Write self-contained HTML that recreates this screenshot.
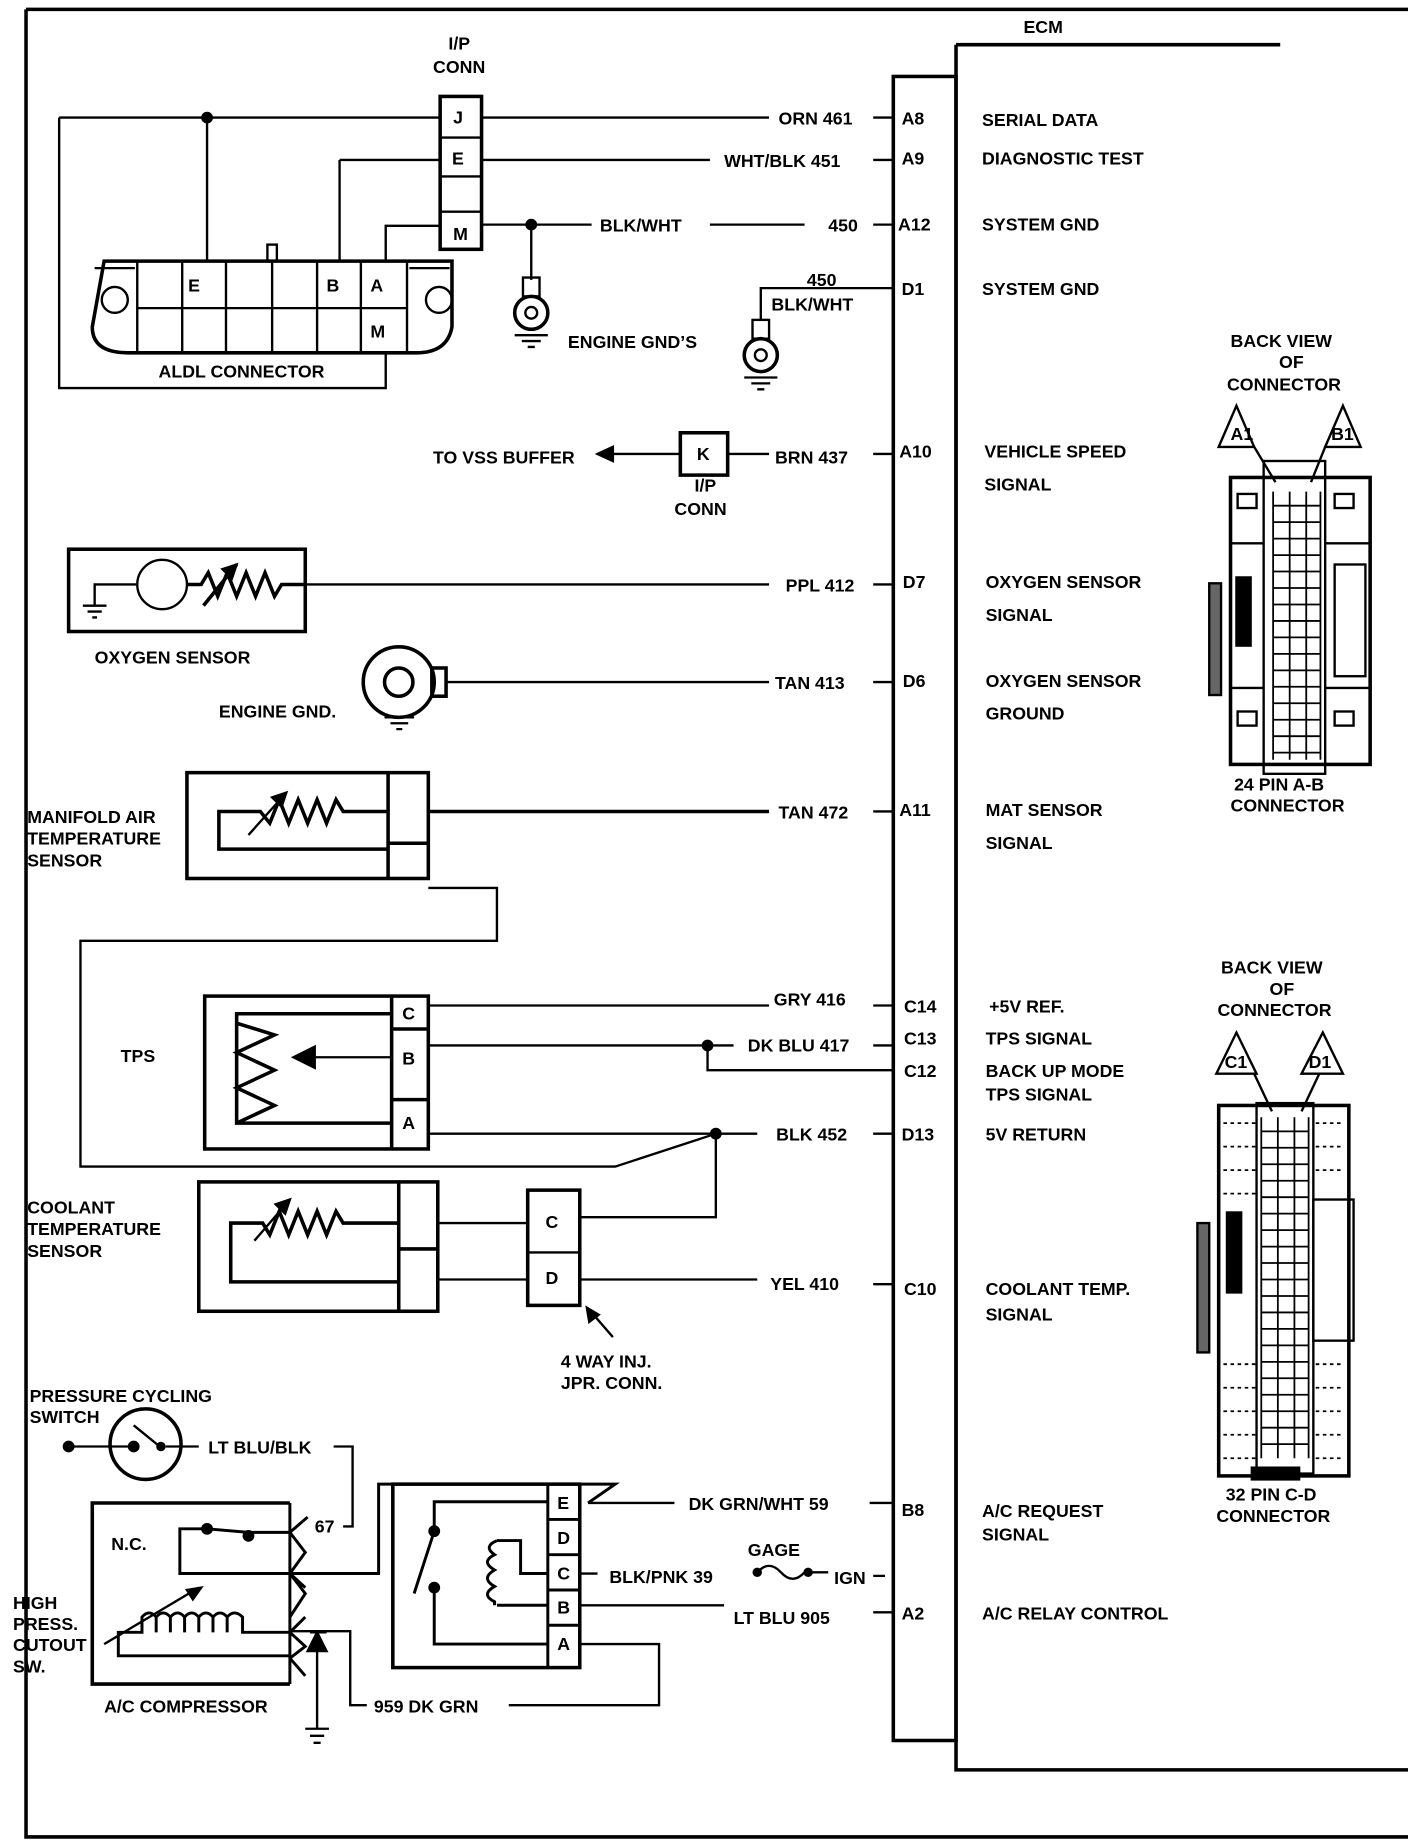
<!DOCTYPE html>
<html><head><meta charset="utf-8"><style>
html,body{margin:0;padding:0;background:#fff;}
svg{display:block;}
text{font-family:"Liberation Sans",sans-serif;font-weight:bold;font-size:15px;fill:#000;}
</style></head><body>
<svg width="1408" height="1844" viewBox="0 0 1190 1568" preserveAspectRatio="none" xmlns="http://www.w3.org/2000/svg">
<g fill="none" stroke="#000" stroke-width="2">
<path d="M22 8 H1190 M22 8 V1562 H1190" stroke-width="3"/>
<path d="M808 38 H1082 M808 38 V1505 H1190" stroke-width="3"/>
<rect x="755" y="65" width="53" height="1415" stroke-width="3"/>
<rect x="372" y="82" width="35" height="130" stroke-width="3"/>
<path d="M372 117 H407 M372 150 H407 M372 180 H407"/>
<path d="M50 100 H372 M50 100 V330 H326 V300 M175 100 V222 M407 100 H650 M407 136 H600 M287 136 H372 M287 136 V222 M326 222 V192 H372 M407 191 H500 M600 191 H680 M449 191 V238"/>
<circle cx="175" cy="100" r="4" fill="#000"/><circle cx="449" cy="191" r="4" fill="#000"/>
<path d="M88 222 H382 V278 Q378 300 352 300 H108 Q78 300 78 278 Z" stroke-width="3"/>
<path d="M116 222 V300 M154 222 V300 M191 222 V300 M230 222 V300 M268 222 V300 M305 222 V300 M344 222 V300 M116 262 H344 M80 228 H114 M346 228 H380"/>
<rect x="226" y="208" width="8" height="14"/>
<circle cx="97" cy="255" r="11"/><circle cx="371" cy="255" r="11"/>
<rect x="442" y="236" width="14" height="16"/><circle cx="449" cy="266" r="14" stroke-width="3"/><circle cx="449" cy="266" r="5"/>
<path d="M435 285 H463 M441 290 H457 M446 295 H452"/>
<path d="M755 245 H643 V272"/>
<rect x="636" y="272" width="14" height="16"/><circle cx="643" cy="302" r="14" stroke-width="3"/><circle cx="643" cy="302" r="5"/>
<path d="M629 321 H657 M635 326 H651 M640 331 H646"/>
<rect x="575" y="368" width="40" height="36" stroke-width="3"/>
<path d="M615 386 H650 M575 386 H515"/>
<path d="M505 386 L518 380 L518 392 Z" fill="#000"/>
<rect x="58" y="467" width="200" height="70" stroke-width="3"/>
<path d="M258 497 H650 M115 497 H80 V515 M70 515 H90 M74 520 H86 M78 525 H82"/>
<circle cx="137" cy="497" r="21"/>
<path d="M158 497 L170 497 L176 487 L184 507 L192 487 L200 507 L208 487 L216 507 L224 487 L232 507 L238 497 H258 M172 515 L200 480" stroke-width="3"/>
<path d="M200 480 L188 484 L196 492 Z" fill="#000"/>
<circle cx="337" cy="580" r="30" stroke-width="3"/><circle cx="337" cy="580" r="12" stroke-width="3"/>
<rect x="365" y="568" width="12" height="24" stroke-width="3"/>
<path d="M377 580 H650 M325 610 H350 M330 615 H345 M335 620 H340"/>
<rect x="158" y="657" width="204" height="90" stroke-width="3"/>
<path d="M328 657 V747 M328 717 H362 M328 690 H290 L284 680 L276 700 L268 680 L260 700 L252 680 L244 700 L236 680 L228 700 L220 690 H185 V722 H328 M362 690 H650" stroke-width="3"/>
<path d="M210 710 L242 674"/><path d="M242 674 L230 678 L238 686 Z" fill="#000"/>
<path d="M362 755 H420 V800 H68 V992 H520 L605 964"/>
<rect x="173" y="847" width="189" height="130" stroke-width="3"/>
<path d="M331 847 V977 M331 875 H362 M331 935 H362 M331 862 H200 V955 H331 M200 870 L232 880 L200 895 L232 910 L200 925 L232 940 L200 955" stroke-width="3"/>
<path d="M331 899 H265"/><path d="M248 899 L266 890 L266 908 Z" fill="#000"/>
<path d="M362 855 H650 M362 889 H620 M598 889 V910 H755 M362 964 H640 M605 964 V1035 H490"/>
<circle cx="598" cy="889" r="4" fill="#000"/><circle cx="605" cy="964" r="4" fill="#000"/>
<rect x="168" y="1005" width="202" height="110" stroke-width="3"/>
<path d="M337 1005 V1115 M337 1062 H370 M337 1040 H290 L284 1030 L276 1050 L268 1030 L260 1050 L252 1030 L244 1050 L236 1030 L228 1050 L222 1040 H195 V1090 H337" stroke-width="3"/>
<path d="M215 1055 L245 1020"/><path d="M245 1020 L233 1024 L241 1032 Z" fill="#000"/>
<rect x="446" y="1012" width="44" height="98" stroke-width="3"/>
<path d="M446 1065 H490 M370 1040 H446 M370 1088 H446 M490 1088 H640 M518 1137 L500 1116"/>
<path d="M496 1112 L498 1124 L506 1118 Z" fill="#000"/>
<circle cx="123" cy="1228" r="30" stroke-width="3"/>
<path d="M58 1230 H110 M140 1230 H168 M113 1212 L135 1230 M282 1230 H298 V1298 H290"/>
<circle cx="58" cy="1230" r="4" fill="#000"/><circle cx="113" cy="1230" r="4" fill="#000"/><circle cx="136" cy="1230" r="3" fill="#000"/>
<path d="M245 1278 H78 V1432 H245" stroke-width="3"/>
<path d="M245 1278 V1432 M245 1303 L260 1290 M245 1303 L258 1320 L245 1338 L258 1350 M245 1338 L258 1355 L245 1375 M245 1388 L258 1375 M245 1388 L258 1400 L245 1410 M245 1410 L258 1425" stroke-width="2.5"/>
<path d="M245 1303 H210 L175 1300 H152 V1338 H245 M245 1338 H320 V1262 H520 L497 1278" stroke-width="2.5"/>
<circle cx="175" cy="1300" r="4" fill="#000"/><circle cx="210" cy="1306" r="4" fill="#000"/>
<path d="M88 1398 L168 1350"/><path d="M170 1350 L158 1352 L163 1360 Z" fill="#000"/>
<path d="M245 1388 H205 V1375 Q198 1368 192 1375 V1388 M192 1375 Q186 1368 180 1375 V1388 M180 1375 Q174 1368 168 1375 V1388 M168 1375 Q162 1368 156 1375 V1388 M156 1375 Q150 1368 144 1375 V1388 M144 1375 Q138 1368 132 1375 V1388 M132 1375 Q126 1368 120 1375 V1388 H100 V1408 H245" stroke-width="2.5"/>
<path d="M245 1387 H296 V1450 H310 M430 1450 H557 V1398 H490 M268 1388 V1470 M258 1470 H278 M262 1476 H274 M265 1482 H271"/>
<path d="M262 1388 H276 M268 1388 L260 1404 H276 Z" fill="#000"/>
<rect x="332" y="1262" width="158" height="156" stroke-width="3"/>
<path d="M463 1262 V1418 M463 1292 H490 M463 1322 H490 M463 1352 H490 M463 1382 H490" stroke-width="2.5"/>
<path d="M463 1277 H367 V1302 L350 1355 M367 1350 V1398 H463 M463 1338 H440 V1310 H420 M420 1365 H463" stroke-width="2.5"/>
<circle cx="367" cy="1302" r="4" fill="#000"/><circle cx="367" cy="1350" r="4" fill="#000"/>
<path d="M420 1310 Q408 1315 418 1322 Q406 1328 418 1335 Q406 1342 418 1349 Q406 1356 418 1362 V1365" stroke-width="2.5"/>
<path d="M497 1278 H570 M735 1278 H755 M490 1338 H505 M490 1365 H612 M640 1337 Q650 1326 660 1337 Q670 1348 680 1337 H700"/>
<circle cx="640" cy="1337" r="3" fill="#000"/><circle cx="683" cy="1337" r="3" fill="#000"/>
<path d="M738 100 H755 M738 136 H755 M738 191 H755 M738 386 H755 M738 497 H755 M738 580 H755 M738 690 H755 M738 855 H755 M738 889 H755 M738 964 H755 M738 1092 H755 M738 1371 H755 M738 1340 H748"/>
<rect x="1040" y="406" width="118" height="244" stroke-width="3"/>
<rect x="1068" y="392" width="52" height="266"/>
<path d="M1040 462 H1068 M1120 462 H1158 M1040 585 H1068 M1120 585 H1158"/>
<rect x="1046" y="420" width="16" height="12"/><rect x="1128" y="420" width="16" height="12"/><rect x="1046" y="605" width="16" height="12"/><rect x="1128" y="605" width="16" height="12"/>
<rect x="1128" y="480" width="26" height="95"/>
<rect x="1022" y="496" width="10" height="95" fill="#666"/>
<path d="M1030 380 L1045 345 L1060 380 Z M1120 380 L1135 345 L1150 380 Z"/>
<path d="M1060 380 L1078 410 M1120 380 L1108 410"/>
<rect x="1030" y="940" width="110" height="315" stroke-width="3"/>
<rect x="1062" y="938" width="48" height="315"/>
<rect x="1110" y="1020" width="34" height="120"/>
<rect x="1012" y="1040" width="10" height="110" fill="#666"/>
<rect x="1058" y="1248" width="40" height="10" fill="#000"/>
<path d="M1028 913 L1045 878 L1062 913 Z M1100 913 L1118 878 L1135 913 Z M1060 913 L1075 945 M1115 913 L1100 945"/>
</g>
<g fill="none" stroke="#000" stroke-width="1.5">
<path d="M1076 418 V646 M1090 418 V646 M1104 418 V646 M1116 418 V646 M1076 430 H1116 M1076 444 H1116 M1076 458 H1116 M1076 472 H1116 M1076 486 H1116 M1076 500 H1116 M1076 514 H1116 M1076 528 H1116 M1076 542 H1116 M1076 556 H1116 M1076 570 H1116 M1076 584 H1116 M1076 598 H1116 M1076 612 H1116 M1076 626 H1116 M1076 640 H1116"/>
<path d="M1066 950 V1240 M1080 950 V1240 M1094 950 V1240 M1106 950 V1240 M1066 962 H1106 M1066 976 H1106 M1066 990 H1106 M1066 1004 H1106 M1066 1018 H1106 M1066 1032 H1106 M1066 1046 H1106 M1066 1060 H1106 M1066 1074 H1106 M1066 1088 H1106 M1066 1102 H1106 M1066 1116 H1106 M1066 1130 H1106 M1066 1144 H1106 M1066 1158 H1106 M1066 1172 H1106 M1066 1186 H1106 M1066 1200 H1106 M1066 1214 H1106 M1066 1228 H1106"/>
<path d="M1034 955 H1062 M1034 975 H1062 M1034 995 H1062 M1034 1015 H1062 M1034 1160 H1062 M1034 1180 H1062 M1034 1200 H1062 M1034 1220 H1062 M1034 1240 H1062 M1112 955 H1136 M1112 975 H1136 M1112 995 H1136 M1112 1160 H1136 M1112 1180 H1136 M1112 1200 H1136 M1112 1220 H1136 M1112 1240 H1136" stroke-dasharray="3 3"/>
</g>
<rect x="1044" y="490" width="14" height="60" fill="#000"/><rect x="1036" y="1030" width="14" height="70" fill="#000"/>
<text x="865" y="28" font-size="18">ECM</text>
<text x="379" y="42">I/P</text><text x="366" y="62">CONN</text>
<text x="383" y="105">J</text><text x="382" y="140">E</text><text x="383" y="204">M</text>
<text x="159" y="248">E</text><text x="276" y="248">B</text><text x="313" y="248">A</text><text x="313" y="287">M</text>
<text x="134" y="321">ALDL CONNECTOR</text>
<text x="480" y="296">ENGINE GND’S</text>
<text x="658" y="106">ORN 461</text><text x="612" y="142">WHT/BLK 451</text>
<text x="507" y="197">BLK/WHT</text><text x="700" y="197">450</text>
<text x="682" y="243">450</text><text x="652" y="264">BLK/WHT</text>
<text x="366" y="394">TO  VSS BUFFER</text><text x="589" y="391">K</text>
<text x="655" y="394">BRN 437</text><text x="587" y="418">I/P</text><text x="570" y="438">CONN</text>
<text x="664" y="503">PPL 412</text><text x="80" y="564">OXYGEN SENSOR</text>
<text x="655" y="586">TAN 413</text><text x="185" y="610">ENGINE GND.</text>
<text x="658" y="696">TAN 472</text>
<text x="23" y="700">MANIFOLD AIR</text><text x="23" y="718">TEMPERATURE</text><text x="23" y="737">SENSOR</text>
<text x="102" y="903">TPS</text>
<text x="340" y="867">C</text><text x="340" y="905">B</text><text x="340" y="960">A</text>
<text x="654" y="855">GRY 416</text><text x="632" y="894">DK BLU 417</text><text x="656" y="970">BLK 452</text>
<text x="23" y="1032">COOLANT</text><text x="23" y="1050">TEMPERATURE</text><text x="23" y="1069">SENSOR</text>
<text x="461" y="1044">C</text><text x="461" y="1092">D</text>
<text x="651" y="1097">YEL 410</text>
<text x="474" y="1163">4 WAY INJ.</text><text x="474" y="1181">JPR. CONN.</text>
<text x="25" y="1192">PRESSURE CYCLING</text><text x="25" y="1210">SWITCH</text>
<text x="176" y="1236">LT BLU/BLK</text><text x="266" y="1303">67</text>
<text x="94" y="1318">N.C.</text>
<text x="11" y="1368">HIGH</text><text x="11" y="1386">PRESS.</text><text x="11" y="1404">CUTOUT</text><text x="11" y="1422">SW.</text>
<text x="88" y="1456">A/C COMPRESSOR</text><text x="316" y="1456">959 DK GRN</text>
<text x="471" y="1283">E</text><text x="471" y="1313">D</text><text x="471" y="1343">C</text><text x="471" y="1372">B</text><text x="471" y="1403">A</text>
<text x="582" y="1284">DK GRN/WHT 59</text><text x="515" y="1346">BLK/PNK 39</text>
<text x="632" y="1323">GAGE</text><text x="705" y="1347">IGN</text><text x="620" y="1381">LT BLU  905</text>
<text x="762" y="106">A8</text><text x="762" y="140">A9</text><text x="759" y="196">A12</text><text x="762" y="251">D1</text>
<text x="760" y="389">A10</text><text x="763" y="500">D7</text><text x="763" y="584">D6</text><text x="760" y="694">A11</text>
<text x="764" y="861">C14</text><text x="764" y="888">C13</text><text x="764" y="916">C12</text><text x="762" y="970">D13</text>
<text x="764" y="1101">C10</text><text x="762" y="1289">B8</text><text x="762" y="1377">A2</text>
<text x="830" y="107">SERIAL DATA</text><text x="830" y="140">DIAGNOSTIC TEST</text>
<text x="830" y="196">SYSTEM GND</text><text x="830" y="251">SYSTEM GND</text>
<text x="832" y="389">VEHICLE SPEED</text><text x="832" y="417">SIGNAL</text>
<text x="833" y="500">OXYGEN SENSOR</text><text x="833" y="528">SIGNAL</text>
<text x="833" y="584">OXYGEN SENSOR</text><text x="833" y="612">GROUND</text>
<text x="833" y="694">MAT  SENSOR</text><text x="833" y="722">SIGNAL</text>
<text x="836" y="861">+5V REF.</text><text x="833" y="888">TPS SIGNAL</text>
<text x="833" y="916">BACK UP MODE</text><text x="833" y="936">TPS SIGNAL</text>
<text x="833" y="970">5V RETURN</text>
<text x="833" y="1101">COOLANT TEMP.</text><text x="833" y="1123">SIGNAL</text>
<text x="830" y="1290">A/C REQUEST</text><text x="830" y="1310">SIGNAL</text>
<text x="830" y="1377">A/C RELAY CONTROL</text>
<text x="1040" y="295">BACK VIEW</text><text x="1081" y="313">OF</text><text x="1037" y="332">CONNECTOR</text>
<text x="1040" y="374" font-size="13">A1</text><text x="1125" y="374" font-size="13">B1</text>
<text x="1043" y="672">24 PIN  A-B</text><text x="1040" y="690">CONNECTOR</text>
<text x="1032" y="828">BACK VIEW</text><text x="1073" y="846">OF</text><text x="1029" y="864">CONNECTOR</text>
<text x="1035" y="908" font-size="13">C1</text><text x="1106" y="908" font-size="13">D1</text>
<text x="1036" y="1276">32 PIN C-D</text><text x="1028" y="1294">CONNECTOR</text>
</svg>
</body></html>
